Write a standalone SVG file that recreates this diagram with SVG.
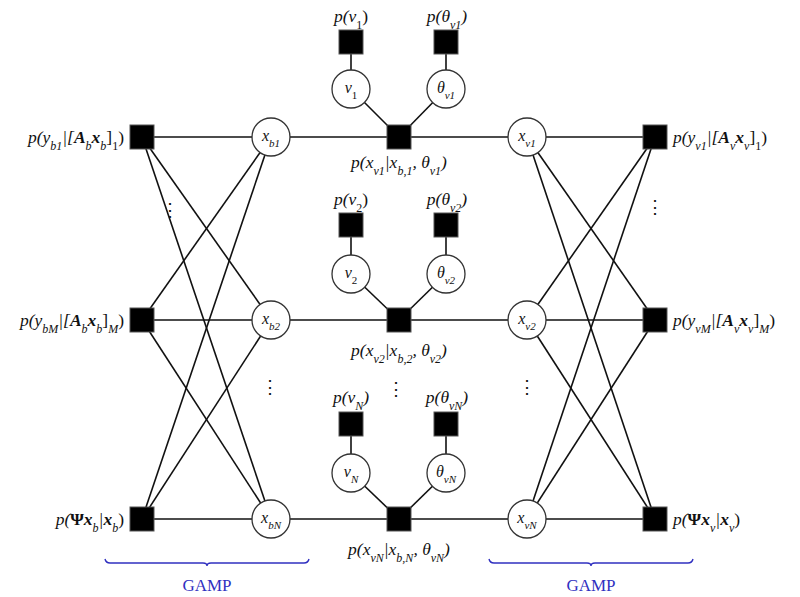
<svg xmlns="http://www.w3.org/2000/svg" width="800" height="597" viewBox="0 0 800 597">
<style>
.e{stroke:#111;stroke-width:1.6;fill:none}
.v{fill:#fff;stroke:#333;stroke-width:1.3}
.f{fill:#000;stroke:#555;stroke-width:1}
text{font-family:"Liberation Serif","DejaVu Serif",serif;font-size:17.5px;fill:#111}
.m{font-style:italic}
.c{text-anchor:middle}
.r{text-anchor:end}
.s{font-size:12px;baseline-shift:sub}
.b{font-weight:bold}
.n{font-style:normal}
.cl{font-size:16px}
.cl .s{font-size:11px}
.dots{font-size:18px;text-anchor:middle}
.g{fill:#3030c0;font-size:17px;text-anchor:middle}
.br{stroke:#3030c0;stroke-width:1.4;fill:none}
</style>
<g id="connectors">
<line class="e" x1="142" y1="137" x2="655" y2="137"/>
<line class="e" x1="142" y1="320" x2="655" y2="320"/>
<line class="e" x1="142" y1="519" x2="655" y2="519"/>
<line class="e" x1="142" y1="137" x2="271" y2="320"/>
<line class="e" x1="142" y1="137" x2="271" y2="519"/>
<line class="e" x1="142" y1="320" x2="271" y2="137"/>
<line class="e" x1="142" y1="320" x2="271" y2="519"/>
<line class="e" x1="142" y1="519" x2="271" y2="137"/>
<line class="e" x1="142" y1="519" x2="271" y2="320"/>
<line class="e" x1="527" y1="137" x2="655" y2="320"/>
<line class="e" x1="527" y1="137" x2="655" y2="519"/>
<line class="e" x1="527" y1="320" x2="655" y2="137"/>
<line class="e" x1="527" y1="320" x2="655" y2="519"/>
<line class="e" x1="527" y1="519" x2="655" y2="137"/>
<line class="e" x1="527" y1="519" x2="655" y2="320"/>
<line class="e" x1="351" y1="42" x2="351" y2="89"/>
<line class="e" x1="446" y1="42" x2="446" y2="89"/>
<line class="e" x1="351" y1="89" x2="399" y2="137"/>
<line class="e" x1="446" y1="89" x2="399" y2="137"/>
<line class="e" x1="351" y1="225" x2="351" y2="274"/>
<line class="e" x1="446" y1="225" x2="446" y2="274"/>
<line class="e" x1="351" y1="274" x2="399" y2="320"/>
<line class="e" x1="446" y1="274" x2="399" y2="320"/>
<line class="e" x1="351" y1="424" x2="351" y2="473"/>
<line class="e" x1="446" y1="424" x2="446" y2="473"/>
<line class="e" x1="351" y1="473" x2="399" y2="519"/>
<line class="e" x1="446" y1="473" x2="399" y2="519"/>
</g>
<g id="fb1"><rect class="f" x="130" y="125" width="24" height="24"/><text class="m r" x="124" y="143">p(y<tspan class="s">b1</tspan>|[<tspan class="b">A</tspan><tspan class="s">b</tspan><tspan class="b">x</tspan><tspan class="s">b</tspan><tspan class="n">]</tspan><tspan class="s n">1</tspan><tspan class="n">)</tspan></text></g>
<g id="fbM"><rect class="f" x="130" y="308" width="24" height="24"/><text class="m r" x="124" y="326">p(y<tspan class="s">bM</tspan>|[<tspan class="b">A</tspan><tspan class="s">b</tspan><tspan class="b">x</tspan><tspan class="s">b</tspan><tspan class="n">]</tspan><tspan class="s">M</tspan><tspan class="n">)</tspan></text></g>
<g id="fbP"><rect class="f" x="130" y="507" width="24" height="24"/><text class="m r" x="124" y="525">p(<tspan class="b n">Ψ</tspan><tspan class="b">x</tspan><tspan class="s">b</tspan>|<tspan class="b">x</tspan><tspan class="s">b</tspan><tspan class="n">)</tspan></text></g>
<g id="xb1"><circle class="v" cx="271" cy="137" r="19"/><text class="m c cl" x="271" y="141">x<tspan class="s">b1</tspan></text></g>
<g id="xb2"><circle class="v" cx="271" cy="320" r="19"/><text class="m c cl" x="271" y="324">x<tspan class="s">b2</tspan></text></g>
<g id="xbN"><circle class="v" cx="271" cy="519" r="19"/><text class="m c cl" x="271" y="523">x<tspan class="s">bN</tspan></text></g>
<g id="xv1"><circle class="v" cx="527" cy="137" r="19"/><text class="m c cl" x="527" y="141">x<tspan class="s">v1</tspan></text></g>
<g id="xv2"><circle class="v" cx="527" cy="320" r="19"/><text class="m c cl" x="527" y="324">x<tspan class="s">v2</tspan></text></g>
<g id="xvN"><circle class="v" cx="527" cy="519" r="19"/><text class="m c cl" x="527" y="523">x<tspan class="s">vN</tspan></text></g>
<g id="fv1"><rect class="f" x="643" y="125" width="24" height="24"/><text class="m" x="673" y="143">p(y<tspan class="s">v1</tspan>|[<tspan class="b">A</tspan><tspan class="s">v</tspan><tspan class="b">x</tspan><tspan class="s">v</tspan><tspan class="n">]</tspan><tspan class="s n">1</tspan><tspan class="n">)</tspan></text></g>
<g id="fvM"><rect class="f" x="643" y="308" width="24" height="24"/><text class="m" x="673" y="326">p(y<tspan class="s">vM</tspan>|[<tspan class="b">A</tspan><tspan class="s">v</tspan><tspan class="b">x</tspan><tspan class="s">v</tspan><tspan class="n">]</tspan><tspan class="s">M</tspan><tspan class="n">)</tspan></text></g>
<g id="fvP"><rect class="f" x="643" y="507" width="24" height="24"/><text class="m" x="673" y="525">p(<tspan class="b n">Ψ</tspan><tspan class="b">x</tspan><tspan class="s">v</tspan>|<tspan class="b">x</tspan><tspan class="s">v</tspan><tspan class="n">)</tspan></text></g>
<g id="pv1"><rect class="f" x="339" y="30" width="24" height="24"/><text class="m c" x="351" y="22">p(v<tspan class="s n">1</tspan><tspan class="n">)</tspan></text></g>
<g id="pt1"><rect class="f" x="434" y="30" width="24" height="24"/><text class="m c" x="447" y="22">p(θ<tspan class="s">v1</tspan>)</text></g>
<g id="v1"><circle class="v" cx="351" cy="89" r="19"/><text class="m c cl" x="351" y="93">v<tspan class="s n">1</tspan></text></g>
<g id="t1"><circle class="v" cx="446" cy="89" r="19"/><text class="m c cl" x="446" y="93">θ<tspan class="s">v1</tspan></text></g>
<g id="c1"><rect class="f" x="387" y="125" width="24" height="24"/><text class="m c" x="399" y="168">p(x<tspan class="s">v1</tspan>|x<tspan class="s">b,1</tspan>, θ<tspan class="s">v1</tspan>)</text></g>
<g id="pv2"><rect class="f" x="339" y="213" width="24" height="24"/><text class="m c" x="351" y="205">p(v<tspan class="s n">2</tspan><tspan class="n">)</tspan></text></g>
<g id="pt2"><rect class="f" x="434" y="213" width="24" height="24"/><text class="m c" x="447" y="205">p(θ<tspan class="s">v2</tspan>)</text></g>
<g id="v2"><circle class="v" cx="351" cy="274" r="19"/><text class="m c cl" x="351" y="278">v<tspan class="s n">2</tspan></text></g>
<g id="t2"><circle class="v" cx="446" cy="274" r="19"/><text class="m c cl" x="446" y="278">θ<tspan class="s">v2</tspan></text></g>
<g id="c2"><rect class="f" x="387" y="308" width="24" height="24"/><text class="m c" x="399" y="356">p(x<tspan class="s">v2</tspan>|x<tspan class="s">b,2</tspan>, θ<tspan class="s">v2</tspan>)</text></g>
<g id="pvN"><rect class="f" x="339" y="412" width="24" height="24"/><text class="m c" x="351" y="403">p(v<tspan class="s">N</tspan>)</text></g>
<g id="ptN"><rect class="f" x="434" y="412" width="24" height="24"/><text class="m c" x="447" y="403">p(θ<tspan class="s">vN</tspan>)</text></g>
<g id="vN"><circle class="v" cx="351" cy="473" r="19"/><text class="m c cl" x="351" y="477">v<tspan class="s">N</tspan></text></g>
<g id="tN"><circle class="v" cx="446" cy="473" r="19"/><text class="m c cl" x="446" y="477">θ<tspan class="s">vN</tspan></text></g>
<g id="cN"><rect class="f" x="387" y="507" width="24" height="24"/><text class="m c" x="399" y="555">p(x<tspan class="s">vN</tspan>|x<tspan class="s">b,N</tspan>, θ<tspan class="s">vN</tspan>)</text></g>
<g id="ellipses">
<text class="dots" x="170" y="216">⋮</text>
<text class="dots" x="655" y="213">⋮</text>
<text class="dots" x="270" y="393">⋮</text>
<text class="dots" x="527" y="393">⋮</text>
<text class="dots" x="396" y="395">⋮</text>
</g>
<g id="gamp1"><path class="br" d="M105,559 Q106,563 110,563 L203,563 Q207,563 207,566 Q207,563 211,563 L304,563 Q308,563 309,559"/><text class="g" x="207" y="591">GAMP</text></g>
<g id="gamp2"><path class="br" d="M489,559 Q490,563 494,563 L587,563 Q591,563 591,566 Q591,563 595,563 L688,563 Q692,563 693,559"/><text class="g" x="591" y="591">GAMP</text></g>
</svg>
